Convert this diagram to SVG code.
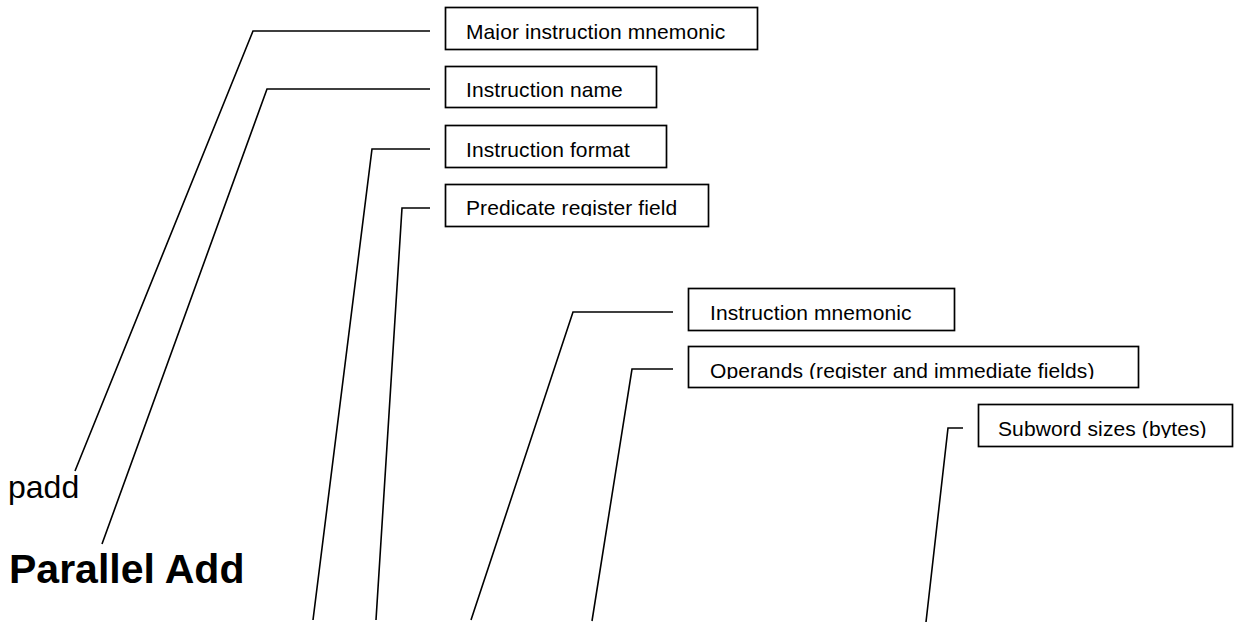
<svg xmlns="http://www.w3.org/2000/svg" width="1244" height="626" viewBox="0 0 1244 626">
<style>
.box{fill:#fff;stroke:#000;stroke-width:1.7}
.lbl{font-family:"Liberation Sans",Arial,sans-serif;font-size:21px;letter-spacing:0.1px;fill:#000}
.con{fill:none;stroke:#000;stroke-width:1.6;stroke-linejoin:miter}
.big{font-family:"Liberation Sans",Arial,sans-serif;fill:#000}
</style>
<defs>
<clipPath id="c1"><rect x="440" y="0" width="330" height="40"/></clipPath>
<clipPath id="c2"><rect x="440" y="60" width="230" height="98"/></clipPath>
<clipPath id="c3"><rect x="440" y="120" width="230" height="38"/></clipPath>
<clipPath id="c4"><rect x="440" y="180" width="280" height="36"/></clipPath>
<clipPath id="c5"><rect x="680" y="280" width="280" height="41"/></clipPath>
<clipPath id="c6"><rect x="680" y="340" width="470" height="39"/></clipPath>
<clipPath id="c7"><rect x="970" y="398" width="270" height="40"/></clipPath>
</defs>
<rect width="1244" height="626" fill="#fff"/>
<g id="connectors">
<polyline class="con" points="430,31 253,31 75,471"/>
<polyline class="con" points="430,89 267,89 102,544"/>
<polyline class="con" points="430,149 372,149 313,620"/>
<polyline class="con" points="430,208 402,208 376,620"/>
<polyline class="con" points="673,312 573,312 471,620"/>
<polyline class="con" points="673,369 632,369 592,621"/>
<polyline class="con" points="963,428 948,428 926,622"/>
</g>
<g id="padd"><text class="big" x="8" y="498" font-size="32">padd</text></g>
<g id="parallel-add"><text class="big" x="9" y="583" font-size="41" font-weight="bold">Parallel Add</text></g>
<g id="major-mnemonic">
<rect class="box" x="445.5" y="7.5" width="312" height="42"/>
<text class="lbl" x="466" y="39" clip-path="url(#c1)">Major instruction mnemonic</text>
</g>
<g id="instruction-name">
<rect class="box" x="445.5" y="66.5" width="211" height="41"/>
<text class="lbl" x="466" y="97" clip-path="url(#c2)">Instruction name</text>
</g>
<g id="instruction-format">
<rect class="box" x="445.5" y="125.5" width="221" height="42"/>
<text class="lbl" x="466" y="157" clip-path="url(#c3)">Instruction format</text>
</g>
<g id="predicate-register">
<rect class="box" x="445.5" y="184.5" width="263" height="42"/>
<text class="lbl" x="466" y="215" clip-path="url(#c4)">Predicate register field</text>
</g>
<g id="instruction-mnemonic">
<rect class="box" x="688.5" y="288.5" width="266" height="42"/>
<text class="lbl" x="710" y="320" clip-path="url(#c5)">Instruction mnemonic</text>
</g>
<g id="operands">
<rect class="box" x="688.5" y="346.5" width="450" height="41"/>
<text class="lbl" x="710" y="378" clip-path="url(#c6)">Operands (register and immediate fields)</text>
</g>
<g id="subword-sizes">
<rect class="box" x="978.5" y="404.5" width="254" height="42"/>
<text class="lbl" x="998" y="436" clip-path="url(#c7)">Subword sizes (bytes)</text>
</g>
</svg>
